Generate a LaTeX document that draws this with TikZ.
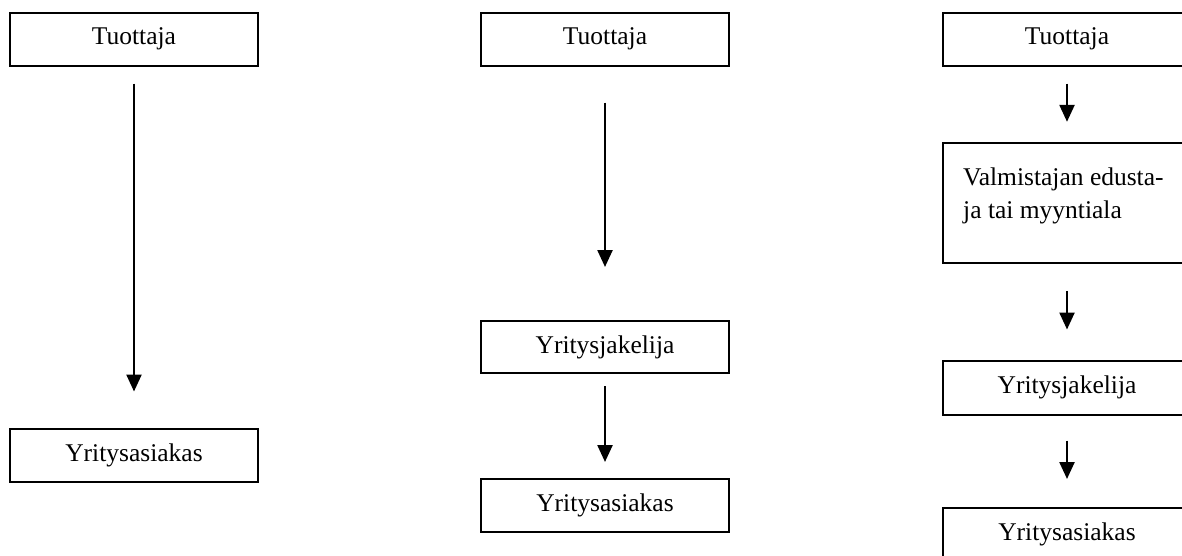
\documentclass[tikz,border=0pt]{standalone}
\usepackage{fontspec}
\setmainfont{Liberation Serif}
\usetikzlibrary{arrows.meta}
\tikzset{
  box/.style={draw=black, line width=2pt, minimum width=248pt, minimum height=53pt, inner sep=0pt, font=\fontsize{25.5}{33}\selectfont},
  arr/.style={line width=2.4pt, -{Triangle[length=17pt,width=15pt]}},
  lbl/.style={inner sep=0pt, align=left, font=\fontsize{25.5}{33}\selectfont}
}
\begin{document}
\begin{tikzpicture}[x=1pt,y=-1pt]
\useasboundingbox (0,0) rectangle (1182,556);
\clip (0,0) rectangle (1182,556);
% left column
\node[box] (l1) at (134,39.2) {Tuottaja};
\node[box] (l2) at (134,455) {Yritysasiakas};
\draw[arr, shorten <=17pt, shorten >=36pt] (l1.south) -- (l2.north);
% middle column
\node[box] (m1) at (605,39.2) {Tuottaja};
\node[box, minimum height=52pt] (m2) at (605,347) {Yritysjakelija};
\node[box] (m3) at (605,505.5) {Yritysasiakas};
\draw[arr, shorten <=36pt, shorten >=53pt] (m1.south) -- (m2.north);
\draw[arr, shorten <=12pt, shorten >=16pt] (m2.south) -- (m3.north);
% right column
\node[box] (r1) at (1067,39.2) {Tuottaja};
\node[box, minimum height=120pt] (r2) at (1067,202.8) {};
\node[lbl, anchor=west] (r2t) at (963,196) {Valmistajan edusta-\\ja tai myyntiala};
\node[box, minimum height=54pt] (r3) at (1067,387.5) {Yritysjakelija};
\node[box] (r4) at (1067,534.5) {Yritysasiakas};
\draw[arr, shorten <=17pt, shorten >=20pt] (r1.south) -- (r2.north);
\draw[arr, shorten <=27pt, shorten >=30pt] (r2.south) -- (r3.north);
\draw[arr, shorten <=25pt, shorten >=28pt] (r3.south) -- (r4.north);
\end{tikzpicture}
\end{document}
